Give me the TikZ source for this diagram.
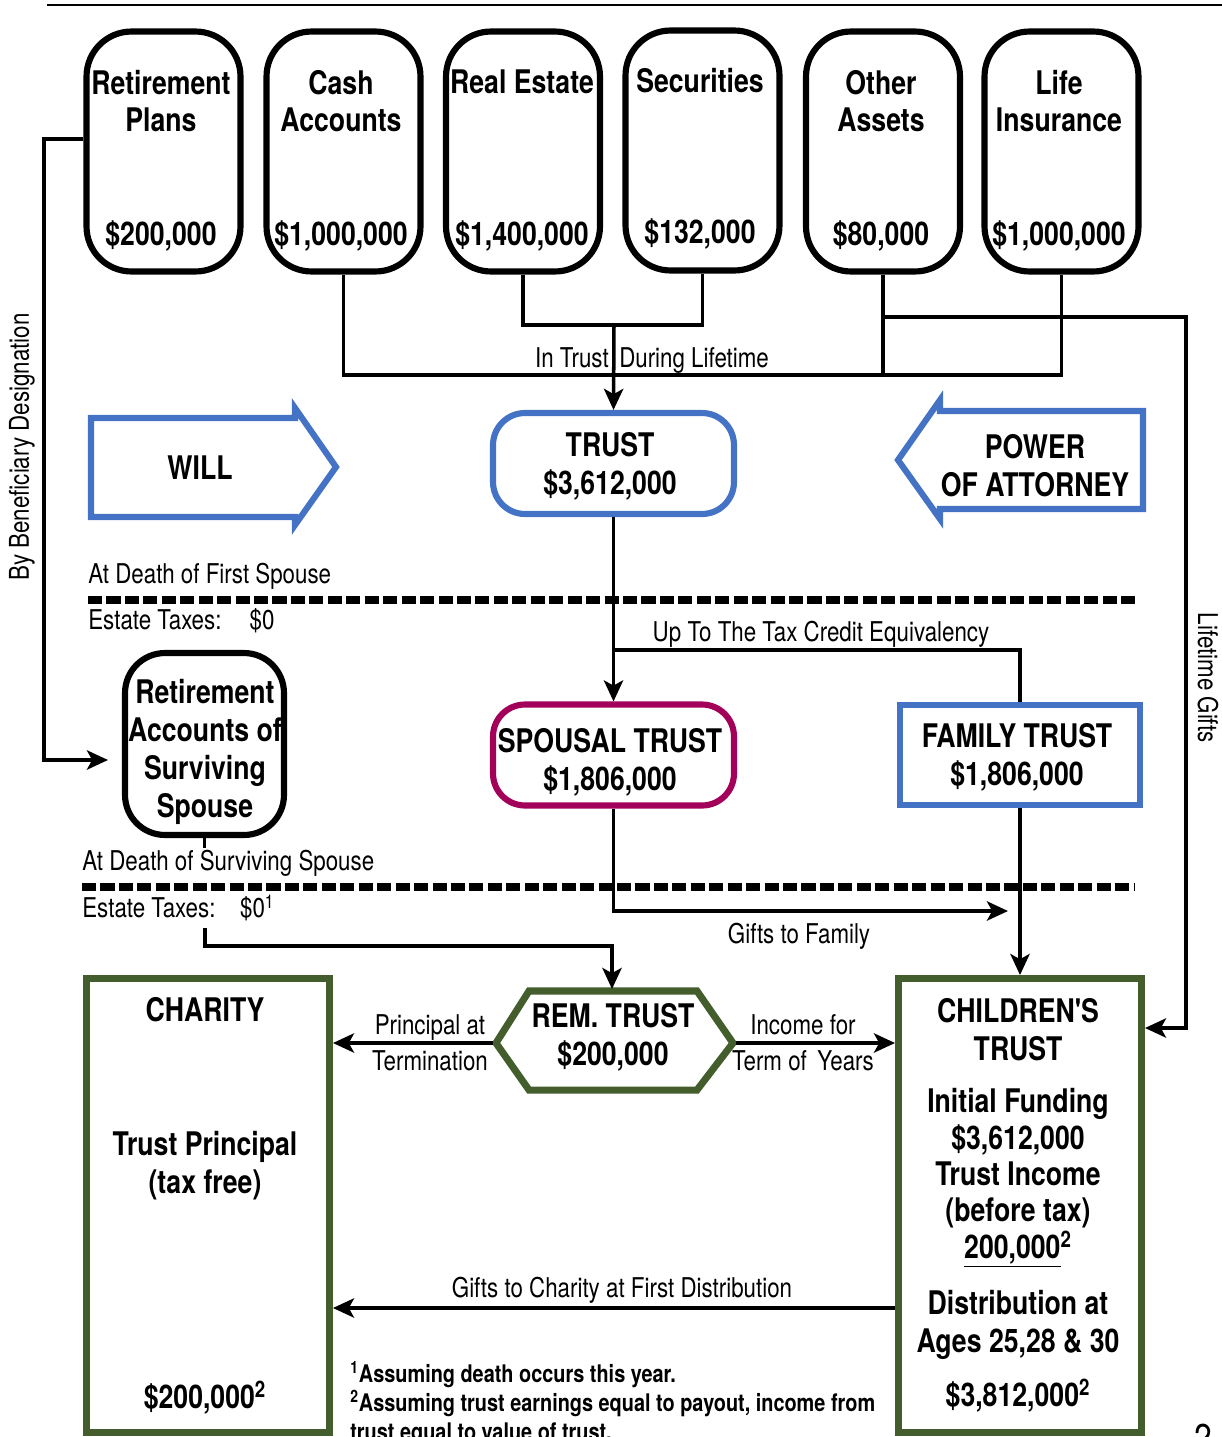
\documentclass[tikz,border=0pt]{standalone}
\usepackage{fontspec}
\setmainfont{TeX Gyre Heros}[FakeStretch=0.82]
\newfontfamily\plainfont{TeX Gyre Heros}[FakeStretch=0.82]
\usepackage{xcolor}
\usepackage{tikz}
\usetikzlibrary{arrows.meta}

\definecolor{trustblue}{HTML}{4472C4}
\definecolor{spousered}{HTML}{A3005A}
\definecolor{remgreen}{HTML}{435E2C}

\tikzset{
  boxtxt/.style = {font=\bfseries\fontsize{18.5}{21.5}\selectfont, align=center, inner sep=0pt},
  lbl/.style = {font=\fontsize{15.5}{20.4}\selectfont, align=center, inner sep=0pt},
  note/.style = {font=\bfseries\fontsize{13.8}{16.4}\selectfont, align=left, inner sep=0pt},
  asset/.style = {rectangle, draw=black, line width=3.5pt, rounded corners=0.9cm, minimum width=3.08cm, minimum height=4.8cm},
  survbox/.style = {rectangle, draw=black, line width=3.5pt, rounded corners=0.8cm, minimum width=3.18cm, minimum height=3.64cm},
  trustbox/.style = {rectangle, draw=trustblue, line width=3.5pt, rounded corners=0.64cm, minimum width=4.82cm, minimum height=2.02cm},
  spousebox/.style = {trustbox, draw=spousered},
  familybox/.style = {rectangle, draw=trustblue, line width=3.5pt, minimum width=4.8cm, minimum height=2cm},
  greenbox/.style = {rectangle, draw=remgreen, line width=4pt, minimum width=4.86cm, minimum height=9.09cm},
  shapeline/.style = {line width=3.5pt, line join=miter},
  conn/.style = {draw=black, line width=2pt},
  arr/.style = {conn, -{Stealth[length=12pt, width=11pt, inset=3pt]}},
  sepline/.style = {line width=4pt, dash pattern=on 8pt off 2.5pt},
}

\begin{document}
\begin{tikzpicture}[x=0.02cm, y=-0.02cm]
\useasboundingbox (0,0) rectangle (1222,1437);
\draw [line width=1.2pt] (47,5) -- (1222,5);

\node [asset] (rp) at (163.5, 151.5) {};
\node [asset] (ca) at (343.5, 151.5) {};
\node [asset] (re) at (523, 151.5) {};
\node [asset] (se) at (702.5, 150.5) {};
\node [asset] (oa) at (883, 151.5) {};
\node [asset] (li) at (1061.5, 151.5) {};

\node [boxtxt] (rp-name) at (161, 101) {Retirement\\Plans};
\node [boxtxt] (ca-name) at (341, 101) {Cash\\Accounts};
\node [boxtxt] (re-name) at (522, 82) {Real Estate};
\node [boxtxt] (se-name) at (700, 81) {Securities};
\node [boxtxt] (oa-name) at (881, 101) {Other\\Assets};
\node [boxtxt] (li-name) at (1059, 101) {Life\\Insurance};
\node [boxtxt] (rp-val) at (161, 236) {\$200,000};
\node [boxtxt] (ca-val) at (341, 236) {\$1,000,000};
\node [boxtxt] (re-val) at (522, 236) {\$1,400,000};
\node [boxtxt] (se-val) at (700, 234) {\$132,000};
\node [boxtxt] (oa-val) at (881, 236) {\$80,000};
\node [boxtxt] (li-val) at (1059, 236) {\$1,000,000};

\node [trustbox] (trust) at (613.5, 463.5) {};
\node [spousebox] (st) at (613.5, 755) {};
\node [familybox] (ft) at (1020, 755) {};
\node [survbox] (ra) at (204.5, 744) {};
\node [boxtxt] (trust-txt) at (610, 466) {TRUST\\\$3,612,000};
\node [boxtxt] (st-txt) at (610, 762) {SPOUSAL TRUST\\\$1,806,000};
\node [boxtxt] (ft-txt) at (1017, 757) {FAMILY TRUST\\\$1,806,000};
\node [boxtxt] (ra-txt) at (205, 752) {Retirement\\Accounts of\\Surviving\\Spouse};

\draw [shapeline, draw=trustblue] (91,418) -- (295,418) -- (295,408) -- (336,467) -- (295,525) -- (295,517) -- (91,517) -- cycle;
\node [boxtxt] (will) at (200, 468) {WILL};
\draw [shapeline, draw=trustblue] (1143,411) -- (940,411) -- (940,400) -- (898,460) -- (940,519) -- (940,509) -- (1143,509) -- cycle;
\node [boxtxt] (poa) at (1035, 466) {POWER\\OF ATTORNEY};

\node [greenbox] (ch) at (208, 1205.75) {};
\node [greenbox] (ct) at (1020, 1205.75) {};
\node [boxtxt] (ch-name) at (205, 1010) {CHARITY};
\node [boxtxt] (ch-mid) at (205, 1166) {Trust Principal\\(tax free)};
\node [boxtxt] (ch-val) at (205, 1398) {\$200,000\textsuperscript{2}};
\node [boxtxt] (ct-name) at (1018, 1030) {CHILDREN{\plainfont\bfseries '}S\\TRUST};
\node [boxtxt, font=\bfseries\fontsize{18.5}{20.7}\selectfont] (ct-fund) at (1018, 1178) {Initial Funding\\\$3,612,000\\Trust Income\\(before tax)\\\underline{200,000}\textsuperscript{2}};
\node [boxtxt] (ct-dist) at (1018, 1325) {Distribution at\\Ages 25,28 \& 30};
\node [boxtxt] (ct-val) at (1018, 1396) {\$3,812,000\textsuperscript{2}};

\draw [shapeline, draw=remgreen, line width=4pt] (496,1043) -- (529,991) -- (697,991) -- (733,1043) -- (697,1090) -- (529,1090) -- cycle;
\node [boxtxt] (rem) at (613, 1037) {REM. TRUST\\\$200,000};
\coordinate (remL) at (493, 1043);
\coordinate (remR) at (736, 1043);
\coordinate (remtop) at (612, 989);

\coordinate (bus) at (614, 375);
\coordinate (rsbus) at (614, 325);
\coordinate (gifts) at (1186, 317);
\coordinate (giftin) at (1186, 1028);
\coordinate (benef) at (44, 139);
\coordinate (benefin) at (108, 760);
\coordinate (split) at (614, 650);
\coordinate (famgift) at (1008, 911);
\coordinate (remin) at (205, 928);
\coordinate (rembus) at (205, 946);
\coordinate (firstdist) at (893, 1308);

\draw [conn] (ca.south) |- (li.south |- bus) -- (li.south);
\draw [conn] (oa.south) -- (oa.south |- bus);
\draw [conn] (re.south) |- (se.south |- rsbus) -- (se.south);
\draw [arr] (rsbus) -- (trust.north);
\draw [arr] (oa.south |- gifts) -- (gifts) -- (giftin) -- (ct.east |- giftin);
\draw [arr] (rp.west |- benef) -- (benef) |- (benefin);
\draw [arr] (trust.south) -- (st.north);
\draw [conn] (split) -| (ft.north);
\draw [arr] (st.south) |- (famgift);
\draw [arr] (ft.south) -- (ct.north);
\draw [conn] (ra.south) -- ++(0, 10);
\draw [arr] (remin) -- (rembus) -| (remtop);
\draw [arr] (remL) -- (ch.east |- remL);
\draw [arr] (remR) -- (ct.west |- remR);
\draw [arr] (ct.west |- firstdist) -- (ch.east |- firstdist);

\draw [sepline] (88, 600) -- (1135, 600);
\draw [sepline] (82, 887) -- (1135, 887);

\node [lbl] (l-trust) at (652, 360) {In Trust\hskip 6pt During Lifetime};
\node [lbl] (l-credit) at (821, 634) {Up To The Tax Credit Equivalency};
\node [lbl] (l-family) at (799, 936) {Gifts to Family};
\node [lbl] (l-princ) at (430, 1043) {Principal at\\Termination};
\node [lbl] (l-income) at (803, 1043) {Income for\\Term of\hskip 6pt Years};
\node [lbl] (l-charity) at (622, 1290) {Gifts to Charity at First Distribution};
\node [lbl, rotate=90] (l-benef) at (22, 447) {By Beneficiary Designation};
\node [lbl, rotate=-90] (l-life) at (1208, 678) {Lifetime Gifts};
\node [lbl, anchor=west] (l-first) at (88, 576) {At Death of First Spouse};
\node [lbl, anchor=west] (l-tax1) at (88, 621) {Estate Taxes:\hskip 16pt\$0};
\node [lbl, anchor=west] (l-surv) at (82, 863) {At Death of Surviving Spouse};
\node [lbl, anchor=west] (l-tax2) at (82, 908) {Estate Taxes:\hskip 14pt\$0\textsuperscript{1}};

\node [note, anchor=north west] (notes) at (350, 1361) {\textsuperscript{1}Assuming death occurs this year.\\\textsuperscript{2}Assuming trust earnings equal to payout, income from\\trust equal to value of trust.};
\node [lbl, font=\fontsize{22}{24}\selectfont, anchor=north] (page) at (1203, 1424) {2};
\end{tikzpicture}
\end{document}
